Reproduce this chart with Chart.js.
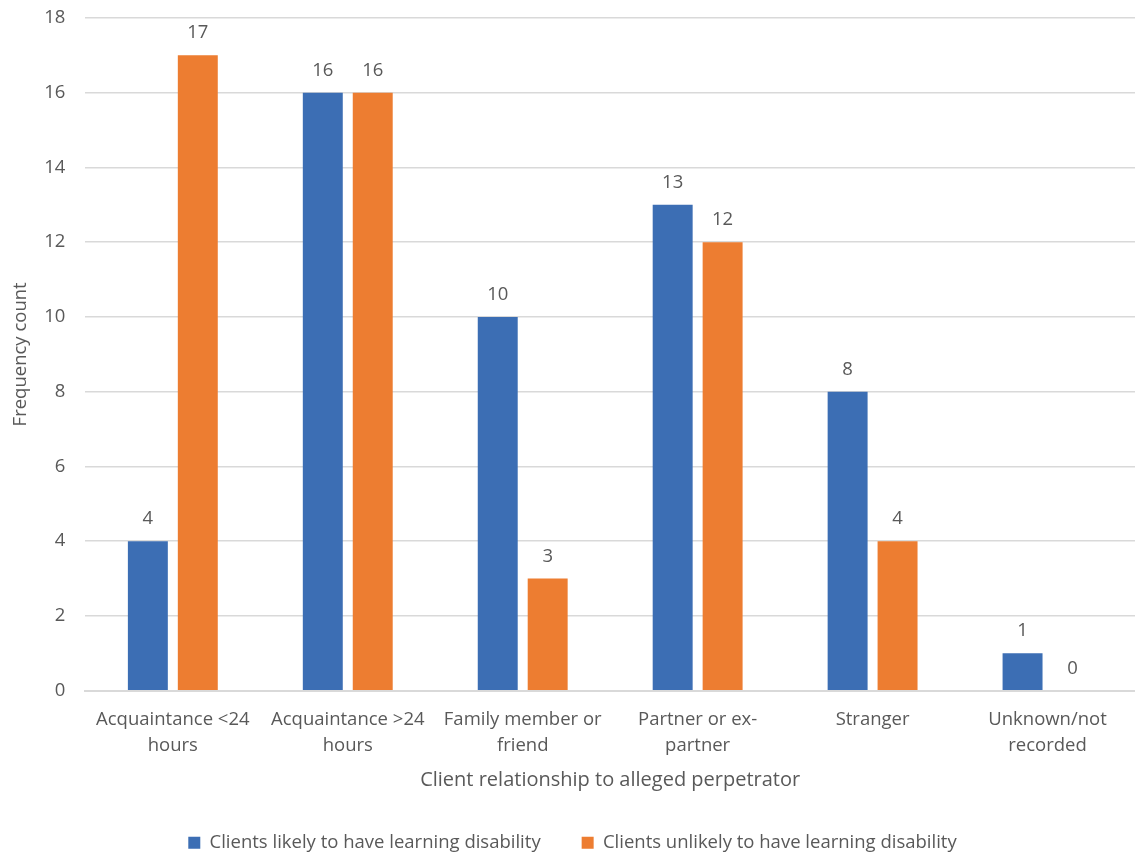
<!DOCTYPE html>
<html>
<head>
<meta charset="utf-8">
<script src="https://cdn.jsdelivr.net/npm/chart.js@4"></script>
<style>
  html, body { margin: 0; padding: 0; background: #fff; }
  #wrap { width: 1135px; height: 854px; position: relative; }
</style>
</head>
<body>
<div id="wrap"><canvas id="chart"></canvas></div>
<script>
// --- data ---
const categories = [
    ['Acquaintance <24', 'hours'],
    ['Acquaintance >24', 'hours'],
    ['Family member or', 'friend'],
    ['Partner or ex-', 'partner'],
    ['Stranger'],
    ['Unknown/not', 'recorded']
];
const likelyLD = [4, 16, 10, 13, 8, 1];
const unlikelyLD = [17, 16, 3, 12, 4, 0];
const yTicks = [0, 2, 4, 6, 8, 10, 12, 14, 16, 18];

const textGrey = '#595959';
const fontFamily = '"Open Sans", sans-serif';
const fs = 18.5;

// labels above each bar
const valueLabels = {
    id: 'valueLabels',
    afterDatasetsDraw(chart) {
        const ctx = chart.ctx;
        ctx.save();
        ctx.fillStyle = textGrey;
        ctx.font = fs + 'px ' + fontFamily;
        ctx.textAlign = 'center';
        ctx.textBaseline = 'bottom';
        chart.data.datasets.forEach((ds, i) => {
            chart.getDatasetMeta(i).data.forEach((bar, j) => {
                ctx.fillText(ds.data[j], bar.x, bar.y - 13);
            });
        });
        ctx.restore();
    }
};

new Chart(document.getElementById('chart'), {
    type: 'bar',
    data: {
        labels: categories,
        datasets: [
            { label: 'Clients likely to have learning disability', data: likelyLD,
              backgroundColor: '#3C6EB4', barPercentage: 0.8, categoryPercentage: 0.571 },
            { label: 'Clients unlikely to have learning disability', data: unlikelyLD,
              backgroundColor: '#ED7D31', barPercentage: 0.8, categoryPercentage: 0.571 }
        ]
    },
    options: {
        responsive: true,
        maintainAspectRatio: false,
        animation: false,
        layout: { padding: { top: 0, right: 0, left: 10, bottom: -8 } },
        plugins: {
            tooltip: { enabled: false },
            legend: {
                position: 'bottom',
                labels: {
                    color: textGrey,
                    font: { family: fontFamily, size: fs },
                    boxWidth: 12, boxHeight: 12,
                    padding: 41
                }
            }
        },
        scales: {
            x: {
                grid: { display: false },
                border: { color: '#D9D9D9', width: 2 },
                ticks: { color: textGrey, font: { family: fontFamily, size: fs, lineHeight: 1.4 }, maxRotation: 0, padding: 8 },
                title: {
                    display: true, text: 'Client relationship to alleged perpetrator',
                    color: textGrey, font: { family: fontFamily, size: 20 }, padding: { top: 2, bottom: 0 }
                }
            },
            y: {
                min: 0, max: 18,
                afterBuildTicks(axis) { axis.ticks = yTicks.map(v => ({ value: v })); },
                // keep the wide label gap without the extra space it adds above the plot
                afterFit(axis) { axis.paddingTop = 18; },
                grid: { color: '#D9D9D9', lineWidth: 1.5, drawTicks: false },
                border: { display: false },
                ticks: { color: textGrey, font: { family: fontFamily, size: fs }, padding: 20 },
                title: {
                    display: true, text: 'Frequency count',
                    color: textGrey, font: { family: fontFamily, size: fs }, padding: { top: 0, bottom: -8 }
                }
            }
        }
    },
    plugins: [valueLabels]
});
</script>
</body>
</html>
